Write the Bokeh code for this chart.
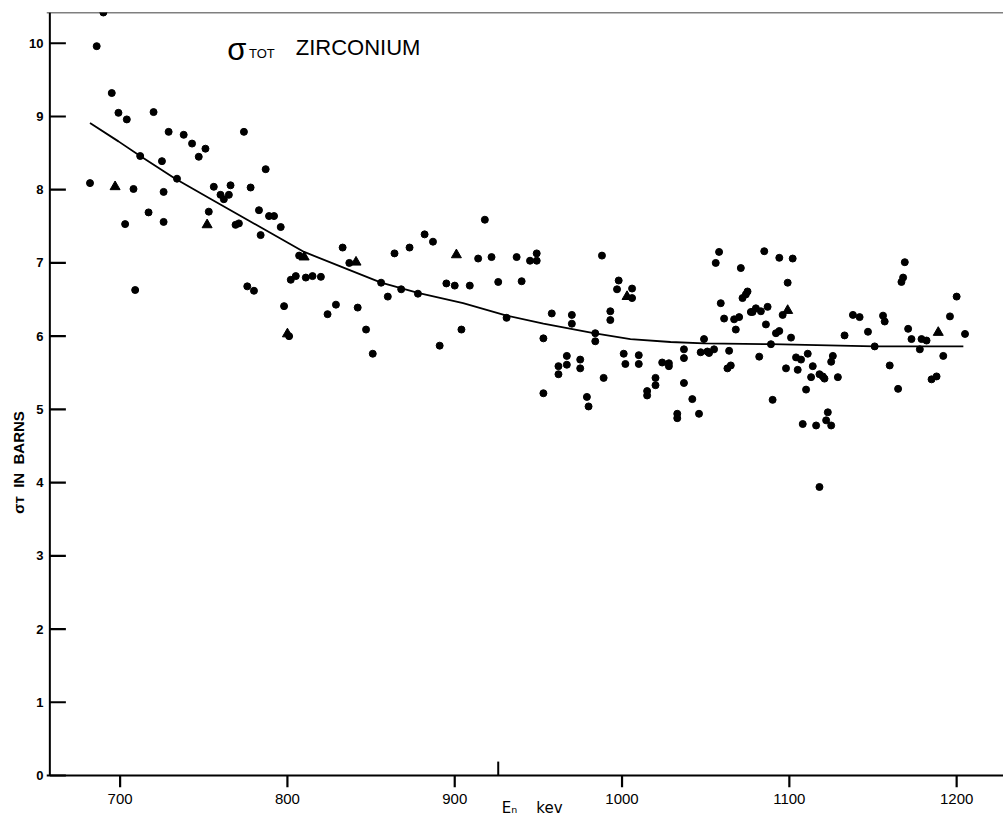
import math
from bokeh.plotting import figure
from bokeh.models import Range1d, FixedTicker, Span, Label
from bokeh.embed import file_html
from bokeh.resources import INLINE

# ---- data (E in keV, sigma_T in barns) ----
circle_e = [690, 686, 682, 695, 699, 704, 708, 703, 712, 717, 720, 725, 726, 726, 729, 734,
            738, 743, 747, 751, 753, 756, 760, 762, 765, 766, 769, 771, 774, 778, 783, 784,
            787, 789, 792, 796, 807, 709, 776, 780, 798, 801, 802, 805, 811, 815, 820, 824,
            829, 833, 837, 864, 873, 882, 887, 914, 918, 922, 937, 945, 949, 949, 988, 856,
            842, 847, 851, 860, 868, 878, 891, 895, 900, 904, 909, 926, 931, 940,
            998, 997, 1006, 1006, 958, 970, 970, 993, 993, 953, 984, 984, 967, 967, 962, 962,
            975, 975, 989, 953, 979, 980, 1001, 1002, 1010, 1010, 1024, 1028, 1028, 1020, 1020,
            1015, 1015, 1037, 1037, 1049, 1047, 1051, 1052, 1055, 1037, 1042, 1033, 1033, 1046,
            1058, 1056, 1085, 1094, 1102, 1071, 1099, 1075, 1074, 1072, 1059, 1061, 1067, 1070,
            1068, 1077, 1078, 1080, 1083, 1087, 1086, 1096, 1092, 1094, 1101, 1089, 1064, 1063,
            1065, 1082, 1090, 1104, 1107, 1111, 1098, 1105, 1114, 1113, 1118, 1120, 1121, 1110,
            1125, 1126, 1129, 1133, 1123, 1122, 1108, 1116, 1125, 1118,
            1169, 1168, 1167, 1200, 1138, 1142, 1156, 1157, 1196, 1147, 1171, 1173, 1179, 1182,
            1205, 1151, 1178, 1192, 1160, 1185, 1188, 1165]
circle_sigma = [10.42, 9.96, 8.09, 9.32, 9.05, 8.96, 8.01, 7.53, 8.46, 7.69, 9.06, 8.39, 7.97, 7.56, 8.79, 8.15,
                8.75, 8.63, 8.45, 8.56, 7.70, 8.04, 7.93, 7.87, 7.93, 8.06, 7.52, 7.54, 8.79, 8.03, 7.72, 7.38,
                8.28, 7.64, 7.64, 7.49, 7.10, 6.63, 6.68, 6.62, 6.41, 6.00, 6.77, 6.82, 6.80, 6.82, 6.81, 6.30,
                6.43, 7.21, 7.00, 7.13, 7.21, 7.39, 7.29, 7.06, 7.59, 7.08, 7.08, 7.03, 7.13, 7.03, 7.10, 6.73,
                6.39, 6.09, 5.76, 6.54, 6.64, 6.58, 5.87, 6.72, 6.69, 6.09, 6.69, 6.74, 6.25, 6.75,
                6.76, 6.64, 6.65, 6.52, 6.31, 6.29, 6.17, 6.34, 6.22, 5.97, 6.04, 5.93, 5.73, 5.61, 5.59, 5.48,
                5.68, 5.56, 5.43, 5.22, 5.17, 5.04, 5.76, 5.62, 5.74, 5.62, 5.64, 5.63, 5.59, 5.43, 5.33,
                5.25, 5.19, 5.82, 5.70, 5.96, 5.78, 5.79, 5.77, 5.82, 5.36, 5.14, 4.94, 4.88, 4.94,
                7.15, 7.00, 7.16, 7.07, 7.06, 6.93, 6.73, 6.61, 6.57, 6.52, 6.45, 6.24, 6.23, 6.26,
                6.09, 6.33, 6.33, 6.38, 6.34, 6.40, 6.16, 6.29, 6.04, 6.07, 5.98, 5.89, 5.80, 5.56,
                5.60, 5.72, 5.13, 5.71, 5.68, 5.76, 5.56, 5.54, 5.59, 5.44, 5.48, 5.45, 5.42, 5.27,
                5.65, 5.73, 5.44, 6.01, 4.96, 4.85, 4.80, 4.78, 4.78, 3.94,
                7.01, 6.80, 6.74, 6.54, 6.29, 6.26, 6.28, 6.20, 6.27, 6.06, 6.10, 5.96, 5.96, 5.94,
                6.03, 5.86, 5.82, 5.73, 5.60, 5.41, 5.45, 5.28]

triangle_e = [697, 752, 800, 810, 841, 901, 1003, 1099, 1189]
triangle_sigma = [8.04, 7.52, 6.03, 7.08, 7.01, 7.11, 6.54, 6.35, 6.05]

fit_e = [682, 699, 712, 733, 756, 776, 810, 832, 856, 878, 905, 931, 953, 983, 1005, 1029,
         1049, 1089, 1151, 1204]
fit_sigma = [8.91, 8.66, 8.46, 8.15, 7.85, 7.59, 7.15, 6.95, 6.73, 6.59, 6.45, 6.28, 6.17, 6.04,
             5.96, 5.92, 5.90, 5.89, 5.86, 5.86]

x_ticks = [700, 800, 900, 1000, 1100, 1200]
y_ticks = [0, 1, 2, 3, 4, 5, 6, 7, 8, 9, 10]
marker_ticks = [926]          # single marker tick on the energy axis

# axis extents
X_MIN, X_MAX = 658, 1228
Y_MIN, Y_MAX = 0, 10.42

# style: tick geometry
X_PAD = 2.0          # keV of blank space left of the sigma axis line
Y_PAD = 0.164        # barns below the energy axis (room for outward ticks)
YTICK_LEN = 9.6      # keV  (inward ticks on the sigma axis)
MARKER_LEN = 0.19    # barns (upward marker tick)

p = figure(width=1003, height=819,
           x_range=Range1d(X_MIN - X_PAD, X_MAX), y_range=Range1d(Y_MIN - Y_PAD, Y_MAX),
           output_backend="svg", toolbar_location=None,
           min_border_left=46, min_border_right=0, min_border_top=12, min_border_bottom=30)
p.outline_line_color = None
p.grid.visible = False
p.background_fill_color = "white"
p.border_fill_color = "white"

# x axis: labels only (line and ticks are drawn as glyphs below)
xa = p.xaxis[0]
xa.ticker = FixedTicker(ticks=x_ticks)
xa.axis_line_color = None
xa.major_tick_line_color = None
xa.minor_tick_line_color = None
xa.major_tick_out = 0
xa.major_tick_in = 0
xa.minor_tick_in = 0
xa.minor_tick_out = 0
xa.major_label_standoff = 6
xa.major_label_text_font = "Liberation Sans"
xa.major_label_text_font_size = "15px"
xa.major_label_text_color = "black"
xa.axis_label = "\u00a0\u00a0\u00a0E\u2099\u00a0\u00a0\u00a0\u00a0kev"
xa.axis_label_text_font = "DejaVu Sans"
xa.axis_label_text_font_style = "normal"
xa.axis_label_text_font_size = "15px"
xa.axis_label_standoff = -8
xa.axis_label_text_color = "black"

# y axis: labels only
ya = p.yaxis[0]
ya.ticker = FixedTicker(ticks=y_ticks)
ya.axis_line_color = None
ya.major_tick_line_color = None
ya.minor_tick_line_color = None
ya.major_tick_in = 0
ya.major_tick_out = 0
ya.minor_tick_in = 0
ya.minor_tick_out = 0
ya.major_label_standoff = 3
ya.major_label_text_font = "Liberation Sans"
ya.major_label_text_font_style = "bold"
ya.major_label_text_font_size = "13px"
ya.major_label_text_color = "black"
ya.axis_label = "\u03c3\u1d1b\u00a0\u00a0IN\u00a0\u00a0BARNS" + "\u00a0" * 30
ya.axis_label_text_font = "Liberation Sans"
ya.axis_label_text_font_style = "bold"
ya.axis_label_text_font_size = "15px"
ya.axis_label_standoff = -1
ya.axis_label_text_color = "black"

# frame lines
p.add_layout(Span(location=Y_MAX, dimension="width", line_color="black", line_width=1.5))
p.add_layout(Span(location=Y_MIN, dimension="width", line_color="black", line_width=2))
p.segment(x0=[X_MIN], y0=[Y_MIN], x1=[X_MIN], y1=[Y_MAX], line_color="black", line_width=2)

# tick marks drawn as dash markers (scatter renders reliably)
p.scatter(x=[X_MIN + YTICK_LEN / 2] * len(y_ticks), y=y_ticks, marker="dash", size=16,
          line_color="black", line_width=2.2)
p.scatter(x=x_ticks, y=[Y_MIN - Y_PAD / 2] * len(x_ticks), marker="dash", size=12,
          angle=math.pi / 2, line_color="black", line_width=2.2)
p.segment(x0=marker_ticks, y0=[Y_MIN] * len(marker_ticks), x1=marker_ticks,
          y1=[Y_MIN + MARKER_LEN] * len(marker_ticks), line_color="black", line_width=2)

# fitted curve
p.line(fit_e, fit_sigma, line_color="black", line_width=1.8)

# data
p.scatter(circle_e, circle_sigma, marker="circle", size=7, fill_color="black", line_color="black")
p.scatter(triangle_e, triangle_sigma, marker="triangle", size=10, fill_color="black", line_color="black")

# title text
p.add_layout(Label(x=764, y=9.92, text="\u03c3", text_font="Liberation Sans", text_font_size="31px",
                   text_color="black", text_baseline="middle"))
p.add_layout(Label(x=777, y=9.86, text="TOT", text_font="Liberation Sans", text_font_size="13px",
                   text_color="black", text_baseline="middle"))
p.add_layout(Label(x=805, y=9.94, text="ZIRCONIUM", text_font="Liberation Sans", text_font_size="22px",
                   text_color="black", text_baseline="middle"))

open("out.html", "w").write(file_html(p, INLINE))
